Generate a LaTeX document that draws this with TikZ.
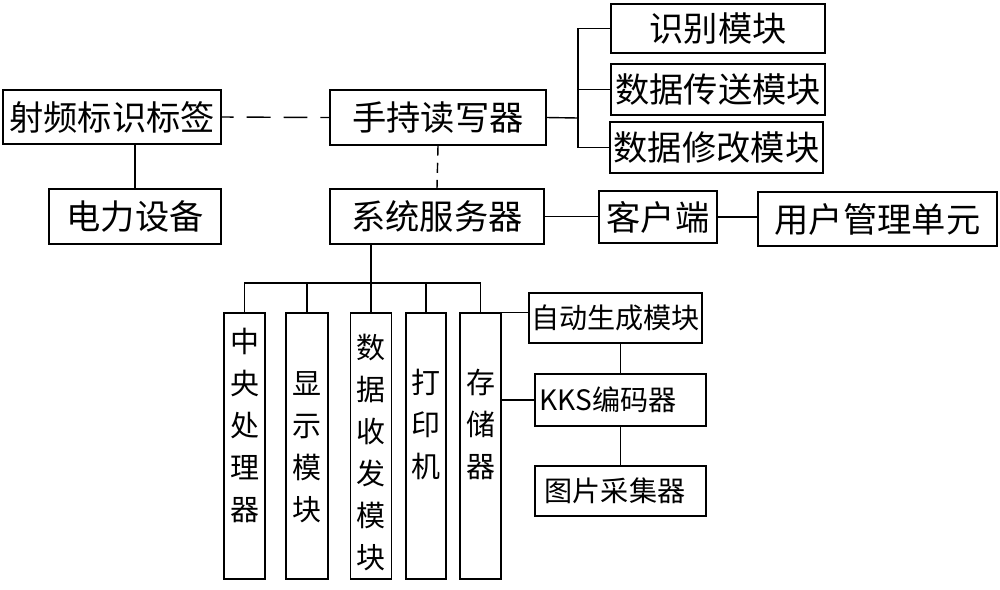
\documentclass[tikz,border=0pt]{standalone}
\usepackage{fontspec}
\setmainfont{Noto Sans CJK SC}
\usetikzlibrary{positioning}
\usetikzlibrary{calc}
\newcommand{\bnode}[6]{\node(#1)[item,minimum width=#4*0.2mm,minimum height=#5*0.2mm] at (#2,#3) {#6}}
\newcommand{\cnode}[3]{\node(#1)[item,minimum width=#3*0.2mm,minimum height=266*0.2mm] at (#2,446) {}}

\begin{document}
\begin{tikzpicture}[
        x=0.2mm, y=-0.2mm,
        every node/.style={font=\fontsize{19.5}{23}\selectfont},
        item/.style={rectangle,draw=black,line width=0.8pt,inner sep=0pt},
        small/.style={font=\fontsize{16}{19}\selectfont},
        vtext/.style={font=\fontsize{16.5}{23.9}\selectfont,align=center,inner sep=0pt},
        link/.style={line width=0.8pt},
        wireless/.style={line width=0.8pt,dash pattern=on 13.6pt off 7.4pt,dash phase=6.8pt},
        wired/.style={line width=0.8pt,dash pattern=on 5.7pt off 4pt}
      ]
      \useasboundingbox (0,0) rectangle (1000,589);

      % top row
      \bnode{rf}{112}{117}{218}{54}{射频标识标签};
      \bnode{pw}{135}{216.5}{172}{55}{电力设备};
      \bnode{hr}{438}{117.5}{216}{55}{手持读写器};
      \bnode{srv}{437}{216.5}{214}{55}{系统服务器};
      \bnode{idm}{718}{28.5}{214}{49}{识别模块};
      \bnode{dtm}{718}{89.5}{214}{51}{数据传送模块};
      \bnode{dmm}{716.5}{147.5}{213}{51}{数据修改模块};
      \bnode{cli}{658}{217}{118}{52}{客户端};
      \bnode{usr}{877.5}{219}{239}{54}{用户管理单元};

      % columns under the server
      \cnode{cpu}{244.5}{41}; \node(cpu-t)[vtext] at (244.5,425) {中\\央\\处\\理\\器};
      \cnode{dsp}{307}{42};   \node(dsp-t)[vtext] at (307,447) {显\\示\\模\\块};
      \cnode{trx}{371}{41};   \node(trx-t)[vtext] at (371,452) {数\\据\\收\\发\\模\\块};
      \cnode{prn}{426}{40};   \node(prn-t)[vtext] at (426,424) {打\\印\\机};
      \cnode{sto}{480.5}{41}; \node(sto-t)[vtext] at (480.5,424) {存\\储\\器};

      % storage side
      \bnode{agm}{615.5}{318}{173}{50}{};
      \node(agm-t)[small,inner sep=0pt] at (615.5,318) {自动生成模块};
      \bnode{kks}{620.5}{400}{171}{52}{};
      \node(kks-t)[small,inner sep=0pt] at (608,400) {KKS编码器};
      \bnode{pic}{620.5}{491}{171}{50}{};
      \node(pic-t)[small,inner sep=0pt] at (615,491) {图片采集器};

      \coordinate (hb) at (578,118);
      \coordinate (bus) at (0,283);

      \draw[link] (pw.north) -- (pw.north |- rf.south);
      \draw[wireless] (rf.east) -- (hr.west);
      \draw[wired] (hr.south) -- (srv.north);
      \draw[link] (hb) -- (hr.east);
      \draw[link] (idm.west) -| (hb) |- (dmm.west);
      \draw[link] (hb |- dtm.west) -- (dtm.west);
      \draw[link] (srv.east) -- (srv.east -| cli.west);
      \draw[link] (cli.east) -- (cli.east -| usr.west);

      \draw[link] (trx.north |- srv.south) -- (trx.north |- bus);
      \draw[link] (cpu.north) -- (cpu.north |- bus) -- (sto.north |- bus) -- (sto.north);
      \foreach \c in {dsp,trx,prn}
        \draw[link] (\c.north) -- (\c.north |- bus);

      \draw[link] (sto.north east) -- (sto.north east -| agm.west);
      \draw[link] (sto.east |- kks.west) -- (kks.west);
      \draw[link] (kks.north) -- (kks.north |- agm.south);
      \draw[link] (kks.south) -- (pic.north);
    \end{tikzpicture}
\end{document}
